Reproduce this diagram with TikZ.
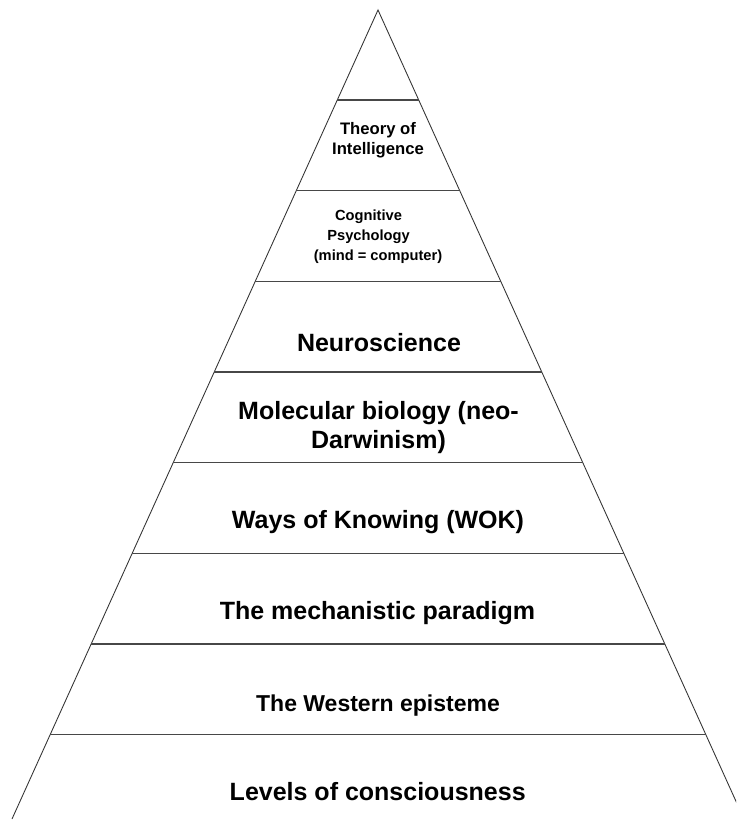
\documentclass[tikz,border=0pt]{standalone}
\usepackage{fontspec}
\setmainfont{Liberation Sans}
\usetikzlibrary{calc}
\begin{document}
\begin{tikzpicture}[x=0.75pt,y=-0.75pt,
  side/.style={line width=0.65pt, draw=black!80},
  tier/.style={line width=1.15pt, draw=black!72},
  lbl/.style={font=\bfseries\fontsize{18.75}{21.75}\selectfont, align=center, inner sep=0pt, anchor=base},
  lblsm/.style={font=\bfseries\fontsize{17.25}{20}\selectfont, align=center, inner sep=0pt, anchor=base},
  lbltheory/.style={font=\bfseries\fontsize{12.5}{14.5}\selectfont, align=center, inner sep=0pt, anchor=base},
  lblcog/.style={font=\bfseries\fontsize{11}{15}\selectfont, align=center, inner sep=0pt, anchor=base}]
  % page frame
  \path[fill=white] (0,0) rectangle (736,820);
  \useasboundingbox (0,0) rectangle (736,820);
  \clip (0,0) rectangle (736,820);

  % pyramid outline
  \coordinate (apex) at (378,10);
  \coordinate (bl) at (12,819);
  \coordinate (br) at (744,819);
  \draw[side] (bl) -- (apex) -- (br);

  % tier boundaries
  \foreach \y [count=\i] in {100,190.7,281.3,372,462.7,553.3,644,734.7} {
    \coordinate (L\i) at ($(apex)!{(\y-10)/809}!(bl)$);
    \coordinate (R\i) at ($(apex)!{(\y-10)/809}!(br)$);
    \draw[tier] (L\i) -- (R\i);
  }

  % tier labels (multi-line labels sit on the baseline of their last line)
  \node[lbltheory] (theory) at (378,154.3) {Theory of\\Intelligence};
  \node[lblcog] (cog) at (368.5,260.7) {Cognitive\\Psychology\\\hspace*{14.25pt}(mind = computer)};
  \node[lbl] (neuro) at (379,351.7) {Neuroscience};
  \node[lbl] (molbio) at (378.5,448.3) {Molecular biology (neo-\\Darwinism)};
  \node[lbl] (wok) at (378,528.3) {Ways of Knowing (WOK)};
  \node[lbl] (mech) at (377.5,619.3) {The mechanistic paradigm};
  \node[lblsm] (west) at (378,711.7) {The Western episteme};
  \node[lbl] (levels) at (377.7,800.7) {Levels of consciousness};
\end{tikzpicture}
\end{document}
